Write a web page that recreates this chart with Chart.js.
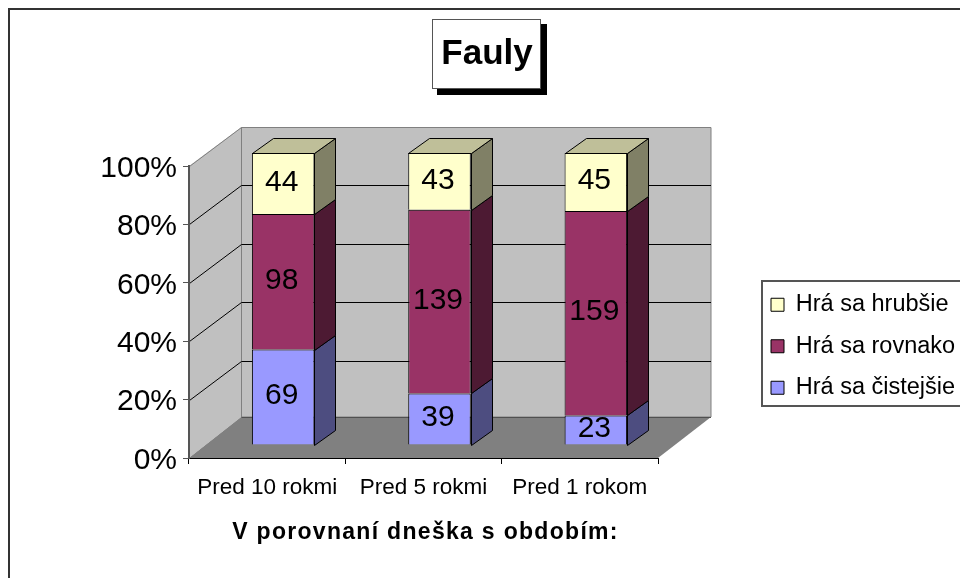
<!DOCTYPE html>
<html lang="sk">
<head>
    <meta charset="UTF-8">
    <title>Fauly</title>
    <script src="https://cdn.jsdelivr.net/npm/chart.js@4"></script>
    <style>
        html, body { margin: 0; padding: 0; background: #fff; overflow: hidden; }
        canvas { display: block; }
    </style>
</head>
<body>
<canvas id="myChart" width="960" height="578"></canvas>
<script>

    // Data
    const kategorie = ['Pred 10 rokmi', 'Pred 5 rokmi', 'Pred 1 rokom'];
    const cistejsie = [69, 39, 23];
    const rovnako = [98, 139, 159];
    const hrubsie = [44, 43, 45];
    const nazvySerii = ['Hrá sa čistejšie', 'Hrá sa rovnako', 'Hrá sa hrubšie'];
    const titulok = 'Fauly';
    const titulokOsi = 'V porovnaní dneška s obdobím:';

    const PISMO = '"Liberation Sans", Arial, sans-serif';

    // 100% stacked: each bar is its share of the category total
    let podiel = (seria) => seria.map((v, i) => v / (cistejsie[i] + rovnako[i] + hrubsie[i]) * 100);

    // Offsets of the fake 3D look
    const STENA = { dx: 52, dy: -39, dyPodlaha: -41 };   // back wall against the front plane
    const STLPEC = { dx: 16, dy: -13 };                  // bar front against the front plane
    const HLBKA = { dx: 21, dy: -15 };                   // depth of one bar

    let polygon = (ctx, body, vypln, ciara) => {
        ctx.beginPath();
        body.forEach((b, i) => i ? ctx.lineTo(b[0], b[1]) : ctx.moveTo(b[0], b[1]));
        ctx.closePath();
        ctx.fillStyle = vypln;
        ctx.fill();
        if (ciara) {
            ctx.strokeStyle = ciara;
            ctx.lineWidth = 1;
            ctx.stroke();
        }
    };

    let ciara = (ctx, x1, y1, x2, y2, farba) => {
        ctx.beginPath();
        ctx.moveTo(x1, y1);
        ctx.lineTo(x2, y2);
        ctx.strokeStyle = farba;
        ctx.lineWidth = 1;
        ctx.stroke();
    };

    const pozadie3D = {
        id: 'pozadie3D',
        afterLayout(chart) {
            // title and legend sit at fixed places, like in the original
            const t = chart.titleBlock;
            t.left = 433; t.right = 541; t.top = 37; t.bottom = 72;
            const l = chart.legend;
            const w = l.width, h = l.height;
            l.left = 753; l.top = 275; l.right = l.left + w; l.bottom = l.top + h;

            const x = chart.scales.x;
            const y = chart.scales.y;
            if (!x.upravene) {
                // the axis title is spaced out in the original
                const povodnyTitul = x.drawTitle;
                x.drawTitle = function () {
                    const c = this.ctx;
                    c.save();
                    c.translate(2, 0);
                    c.letterSpacing = '1.3px';
                    povodnyTitul.call(this);
                    c.restore();
                };
                // digits sit a bit high with the middle baseline
                const povodnePopisy = y.drawLabels;
                y.drawLabels = function (area) {
                    const c = this.ctx;
                    c.save();
                    c.translate(0, 2.5);
                    povodnePopisy.call(this, area);
                    c.restore();
                };
                x.upravene = true;
            }
        },
        beforeDraw(chart) {
            const ctx = chart.ctx;
            const { left, right, top, bottom } = chart.chartArea;
            const y = chart.scales.y;
            const dx = STENA.dx, dy = STENA.dy, dyP = STENA.dyPodlaha;
            ctx.save();

            // frame of the whole chart, right and bottom edges are cut off
            ctx.fillStyle = '#fff';
            ctx.fillRect(0, 0, chart.width, chart.height);
            ctx.strokeStyle = '#333';
            ctx.lineWidth = 2;
            ctx.strokeRect(9, 9, 1000, 1000);

            // title box with its shadow
            ctx.fillStyle = '#000';
            ctx.fillRect(437, 24, 110, 71);
            ctx.fillStyle = '#fff';
            ctx.fillRect(432.5, 19.5, 108, 69);
            ctx.strokeStyle = '#555';
            ctx.lineWidth = 1;
            ctx.strokeRect(432.5, 19.5, 108, 69);

            // legend box
            ctx.fillStyle = '#fff';
            ctx.fillRect(762, 281, 300, 125);
            ctx.strokeStyle = '#555';
            ctx.lineWidth = 2;
            ctx.strokeRect(762, 281, 300, 125);

            // walls and floor
            const zl = left + dx + 0.5, zp = right + dx + 1;
            polygon(ctx, [[left, top], [zl, top + dy], [zl, bottom + dyP], [left, bottom]], '#C0C0C0');
            polygon(ctx, [[zl, top + dy + 0.5], [zp, top + dy + 0.5], [zp, bottom + dyP], [zl, bottom + dyP]], '#C0C0C0', '#808080');
            polygon(ctx, [[left, bottom], [zl, bottom + dyP], [zp, bottom + dyP], [right, bottom]], '#808080');

            // gridlines on both walls
            y.ticks.forEach(t => {
                const py = Math.round(y.getPixelForValue(t.value)) + 0.5;
                const krajna = t.value === 0 || t.value === 100;
                const farba = krajna ? '#808080' : '#000';
                const posun = t.value === 0 ? dyP : dy;
                ciara(ctx, left + 0.5, py, zl, py + posun, farba);
                ciara(ctx, zl, py + posun, zp, py + posun, t.value === 0 ? '#505050' : farba);
            });
            ctx.restore();
        },
        beforeDatasetsDraw(chart) {
            const ctx = chart.ctx;
            ctx.save();
            ctx.translate(STLPEC.dx, STLPEC.dy);

            // side and top faces, the front face is the library's own bar
            chart.data.datasets.forEach((ds, i) => {
                chart.getDatasetMeta(i).data.forEach(el => {
                    const p = Math.round(el.x + el.width / 2) + 0.5;
                    const h = Math.round(el.y) + 0.5;
                    const d = Math.round(el.base) + 0.5;
                    const l = Math.round(el.x - el.width / 2) + 0.5;
                    polygon(ctx, [[p, h], [p + HLBKA.dx, h + HLBKA.dy], [p + HLBKA.dx, d + HLBKA.dy], [p, d]], ds.bocnaFarba, '#000');
                    if (i === chart.data.datasets.length - 1) {
                        polygon(ctx, [[l, h], [l + HLBKA.dx, h + HLBKA.dy], [p + HLBKA.dx, h + HLBKA.dy], [p, h]], ds.hornaFarba, '#000');
                    }
                });
            });
        },
        afterDatasetsDraw(chart) {
            const ctx = chart.ctx;
            ctx.restore();

            // value labels
            ctx.save();
            ctx.font = '30px ' + PISMO;
            ctx.fillStyle = '#000';
            ctx.textAlign = 'center';
            ctx.textBaseline = 'middle';
            chart.data.datasets.forEach((ds, i) => {
                chart.getDatasetMeta(i).data.forEach((el, j) => {
                    ctx.fillText(String(ds.hodnoty[j]), el.x + STLPEC.dx - 1.5, (el.y + el.base) / 2 + STLPEC.dy - 1);
                });
            });
            ctx.restore();
        }
    };

    const ctx = document.getElementById('myChart').getContext('2d');
    const chart = new Chart(ctx, {
        type: 'bar',
        plugins: [pozadie3D],
        data: {
            labels: kategorie,
            datasets: [
                { label: nazvySerii[0], data: podiel(cistejsie), hodnoty: cistejsie, backgroundColor: '#9999FF', bocnaFarba: '#4D4D80', hornaFarba: '#7373BF', borderColor: '#000', borderWidth: 1, clip: false },
                { label: nazvySerii[1], data: podiel(rovnako), hodnoty: rovnako, backgroundColor: '#993366', bocnaFarba: '#4D1A33', hornaFarba: '#73264D', borderColor: '#000', borderWidth: 1, clip: false },
                { label: nazvySerii[2], data: podiel(hrubsie), hodnoty: hrubsie, backgroundColor: '#FFFFCC', bocnaFarba: '#808066', hornaFarba: '#BFBF99', borderColor: '#000', borderWidth: 1, clip: false }
            ]
        },
        options: {
            responsive: false,
            animation: false,
            events: [],
            layout: { padding: { left: 0, right: 302, top: 131, bottom: 0 } },
            datasets: { bar: { barPercentage: 0.4, categoryPercentage: 1 } },
            scales: {
                x: {
                    stacked: true,
                    afterFit: (s) => { s.height = 120; },
                    grid: { drawOnChartArea: false, drawTicks: true, tickLength: 6, color: '#000', offset: true },
                    border: { color: '#000', width: 1 },
                    ticks: { color: '#000', font: { family: PISMO, size: 22.5 }, padding: 10, maxRotation: 0, autoSkip: false },
                    title: { display: true, text: titulokOsi, color: '#000', font: { family: PISMO, size: 23, weight: 'bold' }, padding: { top: 0, bottom: 32 } }
                },
                y: {
                    stacked: true,
                    min: 0,
                    max: 100,
                    afterFit: (s) => { s.width = 189; },
                    grid: { drawOnChartArea: false, drawTicks: true, tickLength: 6, color: '#555' },
                    border: { color: '#555', width: 2 },
                    ticks: { stepSize: 20, color: '#000', font: { family: PISMO, size: 30 }, padding: 6, callback: (v) => v + '%' }
                }
            },
            plugins: {
                tooltip: { enabled: false },
                title: {
                    display: true,
                    text: titulok,
                    color: '#000',
                    font: { family: PISMO, size: 35, weight: 'bold', lineHeight: 1 },
                    padding: 0
                },
                legend: {
                    position: 'chartArea',
                    align: 'start',
                    reverse: true,
                    labels: {
                        color: '#000',
                        font: { family: PISMO, size: 23.5 },
                        boxWidth: 13,
                        boxHeight: 13,
                        padding: 18
                    }
                }
            }
        }
    });

</script>
</body>
</html>
